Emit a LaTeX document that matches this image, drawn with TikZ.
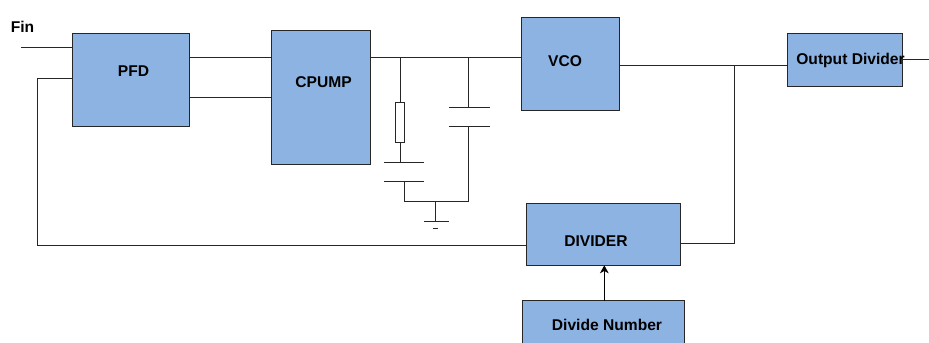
\documentclass[tikz,border=0pt]{standalone}
\usepackage{fontspec}
\usetikzlibrary{arrows.meta}
\setmainfont{Liberation Sans}
\definecolor{blockblue}{HTML}{8DB3E2}
\tikzset{
  blockbox/.style 2 args={draw=black!85,fill=blockblue,line width=0.75pt,inner sep=0pt,outer sep=0pt,
    minimum width=#1*0.75pt,minimum height=#2*0.75pt},
  blocktext/.style={font=\fontsize{11.7}{14}\selectfont\bfseries,inner sep=0pt,text=black},
  wire/.style={line width=0.75pt,draw=black!85},
  resbox/.style={draw=black!85,fill=white,line width=0.75pt,inner sep=0pt,outer sep=0pt,
    minimum width=6.8pt,minimum height=30pt}
}
\begin{document}
\begin{tikzpicture}[x=0.75pt,y=-0.75pt]
    \useasboundingbox (0,0) rectangle (929,343);

    % blocks
    \draw (131,79.75) node[blockbox={117}{93.5}] (pfd) {};
    \draw (320.5,97) node[blockbox={99}{134}] (cpump) {};
    \draw (570,63.5) node[blockbox={98}{93}] (vco) {};
    \draw (844.8,60) node[blockbox={115}{53.5}] (outdiv) {};
    \draw (603.8,234.5) node[blockbox={154.3}{61.6}] (divider) {};
    \draw (603.7,330.5) node[blockbox={162}{60}] (divnum) {};

    % texts
    \draw (22.5,27.3) node[blocktext] (fintext) {Fin};
    \draw (133.5,71.5) node[blocktext] (pfdtext) {PFD};
    \draw (323.5,82) node[blocktext] (cpumptext) {CPUMP};
    \draw (565,61) node[blocktext] (vcotext) {VCO};
    \draw (850.5,60.7) node[blocktext] (outdivtext) {Output Divider};
    \draw (596,240.7) node[blocktext] (dividertext) {DIVIDER};
    \draw (607,324.7) node[blocktext] (divnumtext) {Divide Number};

    % free ends and corners
    \coordinate (finin) at (21,47.5);
    \coordinate (fbtop) at (37,78);
    \coordinate (fbbot) at (37,245.5);
    \coordinate (pfdup) at (189.5,57);
    \coordinate (pfddown) at (189.5,97.5);
    \coordinate (vcoin) at (370,57);
    \coordinate (vcoout) at (619,65);
    \coordinate (tap) at (734,65);
    \coordinate (tapdown) at (734,243);
    \coordinate (outend) at (929,59);

    \draw[wire] (finin) -- (finin -| pfd.west);
    \draw[wire] (pfd.west |- fbtop) -- (fbtop) -- (fbbot) -- (fbbot -| divider.west);
    \draw[wire] (pfdup) -- (pfdup -| cpump.west);
    \draw[wire] (pfddown) -- (pfddown -| cpump.west);
    \draw[wire] (vcoin) -- (vcoin -| vco.west);
    \draw[wire] (vcoout) -- (vcoout -| outdiv.west);
    \draw[wire] (tap) -- (tapdown) -- (tapdown -| divider.east);
    \draw[wire] (outend -| outdiv.east) -- (outend);
    \draw[wire,draw=black,-{Stealth[length=6pt,width=6.5pt,inset=1.8pt]}] (divnum.north -| 604.3,0) -- (604.3,0 |- divider.south);

    % loop filter
    \draw (400,122) node[resbox] (res) {};
    \coordinate (topleft) at (400,57);
    \coordinate (topright) at (468.5,57);
    \coordinate (capa) at (400,162);
    \coordinate (capb) at (404,181);
    \coordinate (capc) at (468.5,107);
    \coordinate (capd) at (468.5,126);
    \coordinate (botleft) at (404,201);
    \coordinate (botright) at (468.5,201);
    \coordinate (gndtop) at (435,201);
    \coordinate (gndbot) at (435,221);

    \draw[wire] (topleft) -- (res.north);
    \draw[wire] (res.south) -- (capa);
    \draw[wire] (384,162) -- (424,162);
    \draw[wire] (384,181) -- (424,181);
    \draw[wire] (capb) -- (botleft) -- (botright) -- (capd);
    \draw[wire] (topright) -- (capc);
    \draw[wire] (449,107) -- (490,107);
    \draw[wire] (449,126) -- (490,126);
    \draw[wire] (gndtop) -- (gndbot);
    \draw[wire] (424,221) -- (449,221);
    \draw[wire] (433,228) -- (438,228);
\end{tikzpicture}
\end{document}
